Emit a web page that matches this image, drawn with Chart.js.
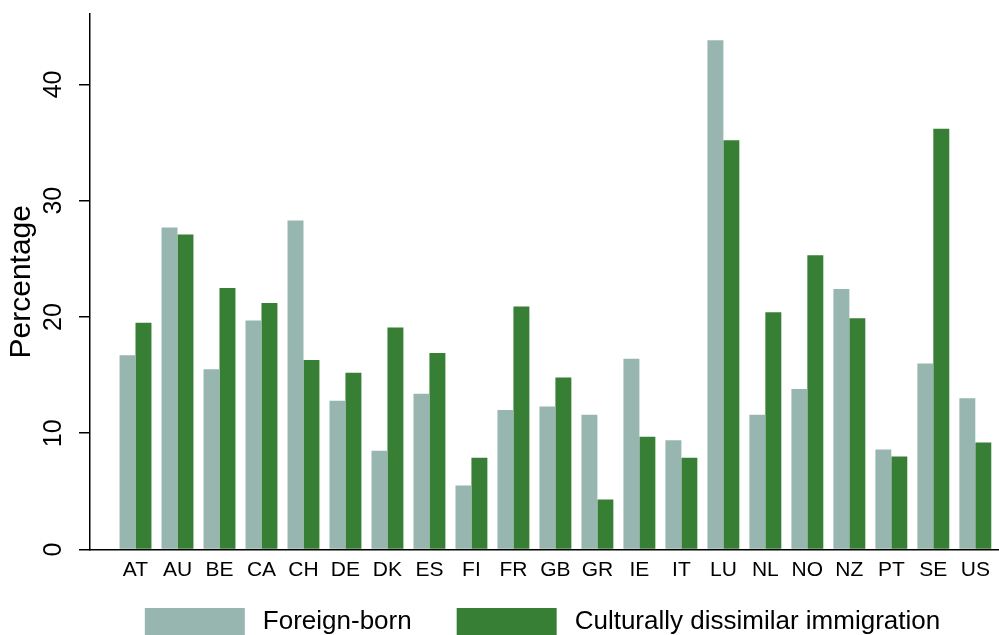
<!DOCTYPE html>
<html>
<head>
<meta charset="utf-8">
<script src="https://cdn.jsdelivr.net/npm/chart.js@4.4.1/dist/chart.umd.min.js"></script>
<style>
  html, body { margin: 0; padding: 0; background: #ffffff; }
  #wrap { width: 999px; height: 635px; }
</style>
</head>
<body>
<div id="wrap"><canvas id="chart" width="999" height="635"></canvas></div>
<script>
// Country codes along the horizontal axis
const countries = ['AT','AU','BE','CA','CH','DE','DK','ES','FI','FR','GB','GR','IE','IT','LU','NL','NO','NZ','PT','SE','US'];

// Foreign-born share of the population (%)
const foreignBorn = [16.7, 27.7, 15.5, 19.7, 28.3, 12.8, 8.5, 13.4, 5.5, 12.0, 12.3, 11.6, 16.4, 9.4, 43.8, 11.6, 13.8, 22.4, 8.6, 16.0, 13.0];

// Culturally dissimilar immigration (%)
const dissimilar = [19.5, 27.1, 22.5, 21.2, 16.3, 15.2, 19.1, 16.9, 7.9, 20.9, 14.8, 4.3, 9.7, 7.9, 35.2, 20.4, 25.3, 19.9, 8.0, 36.2, 9.2];

// Vertical axis ticks
const yTicks = [0, 10, 20, 30, 40];

const LIGHT = '#98b6b0';
const DARK = '#367f34';
const FONT = "'Liberation Sans', Arial, Helvetica, sans-serif";

const toPoints = arr => arr.map((v, i) => ({ x: i, y: v }));

// Legend row under the axis: wide swatches, centred on the plot area
const bottomLegend = {
  id: 'bottomLegend',
  afterDraw(chart) {
    const { ctx, chartArea } = chart;
    const boxW = 100, boxH = 28, boxGap = 18, itemGap = 45;
    const top = 608;
    ctx.save();
    ctx.font = '26px ' + FONT;
    const items = chart.data.datasets.map(ds => ({
      text: ds.label, color: ds.backgroundColor, w: ctx.measureText(ds.label).width
    }));
    const total = items.reduce((s, it) => s + boxW + boxGap + it.w, 0) + itemGap * (items.length - 1);
    let x = (chartArea.left + chartArea.right) / 2 - total / 2 - 2;
    ctx.textBaseline = 'middle';
    ctx.textAlign = 'left';
    items.forEach(it => {
      ctx.fillStyle = it.color;
      ctx.fillRect(x, top, boxW, boxH);
      ctx.fillStyle = '#000000';
      ctx.fillText(it.text, x + boxW + boxGap, top + 14);
      x += boxW + boxGap + it.w + itemGap;
    });
    ctx.restore();
  }
};

new Chart(document.getElementById('chart'), {
  type: 'bar',
  data: {
    datasets: [
      { label: 'Foreign-born', data: toPoints(foreignBorn), backgroundColor: LIGHT, borderWidth: 0,
        categoryPercentage: 0.76, barPercentage: 1.0 },
      { label: 'Culturally dissimilar immigration', data: toPoints(dissimilar), backgroundColor: DARK, borderWidth: 0,
        categoryPercentage: 0.76, barPercentage: 1.0 }
    ]
  },
  plugins: [bottomLegend],
  options: {
    responsive: false,
    animation: false,
    layout: { padding: { top: 14, right: 0, bottom: 40.5, left: 0 } },
    plugins: {
      tooltip: { enabled: false },
      legend: { display: false }
    },
    scales: {
      x: {
        type: 'linear',
        min: -1.0836,
        max: 20.564,
        offset: false,
        afterFit: s => { s.height = 45; s.paddingLeft = 0; s.paddingRight = 0; },
        border: { display: true, color: '#000000', width: 1.5 },
        grid: { display: true, drawOnChartArea: false, drawTicks: false, color: '#000000' },
        ticks: {
          stepSize: 1,
          includeBounds: false,
          autoSkip: false,
          maxRotation: 0,
          minRotation: 0,
          padding: 8,
          color: '#000000',
          font: { family: FONT, size: 21 },
          callback: v => (Number.isInteger(v) && countries[v] !== undefined) ? countries[v] : ''
        }
      },
      y: {
        min: 0,
        max: 46.06,
        afterFit: s => { s.width = 90; s.paddingTop = 0; s.paddingBottom = 0; },
        afterBuildTicks: s => { s.ticks = yTicks.map(v => ({ value: v })); },
        border: { display: true, color: '#000000', width: 1.5 },
        grid: { display: true, drawOnChartArea: false, drawTicks: true, tickLength: 11, color: '#000000', lineWidth: 1.5 },
        ticks: {
          includeBounds: false,
          minRotation: 90,
          maxRotation: 90,
          crossAlign: 'center',
          padding: 11,
          color: '#000000',
          font: { family: FONT, size: 25 }
        },
        title: {
          display: true,
          text: 'Percentage',
          color: '#000000',
          padding: { top: 4, bottom: 0 },
          font: { family: FONT, size: 30 }
        }
      }
    }
  }
});
</script>
</body>
</html>
